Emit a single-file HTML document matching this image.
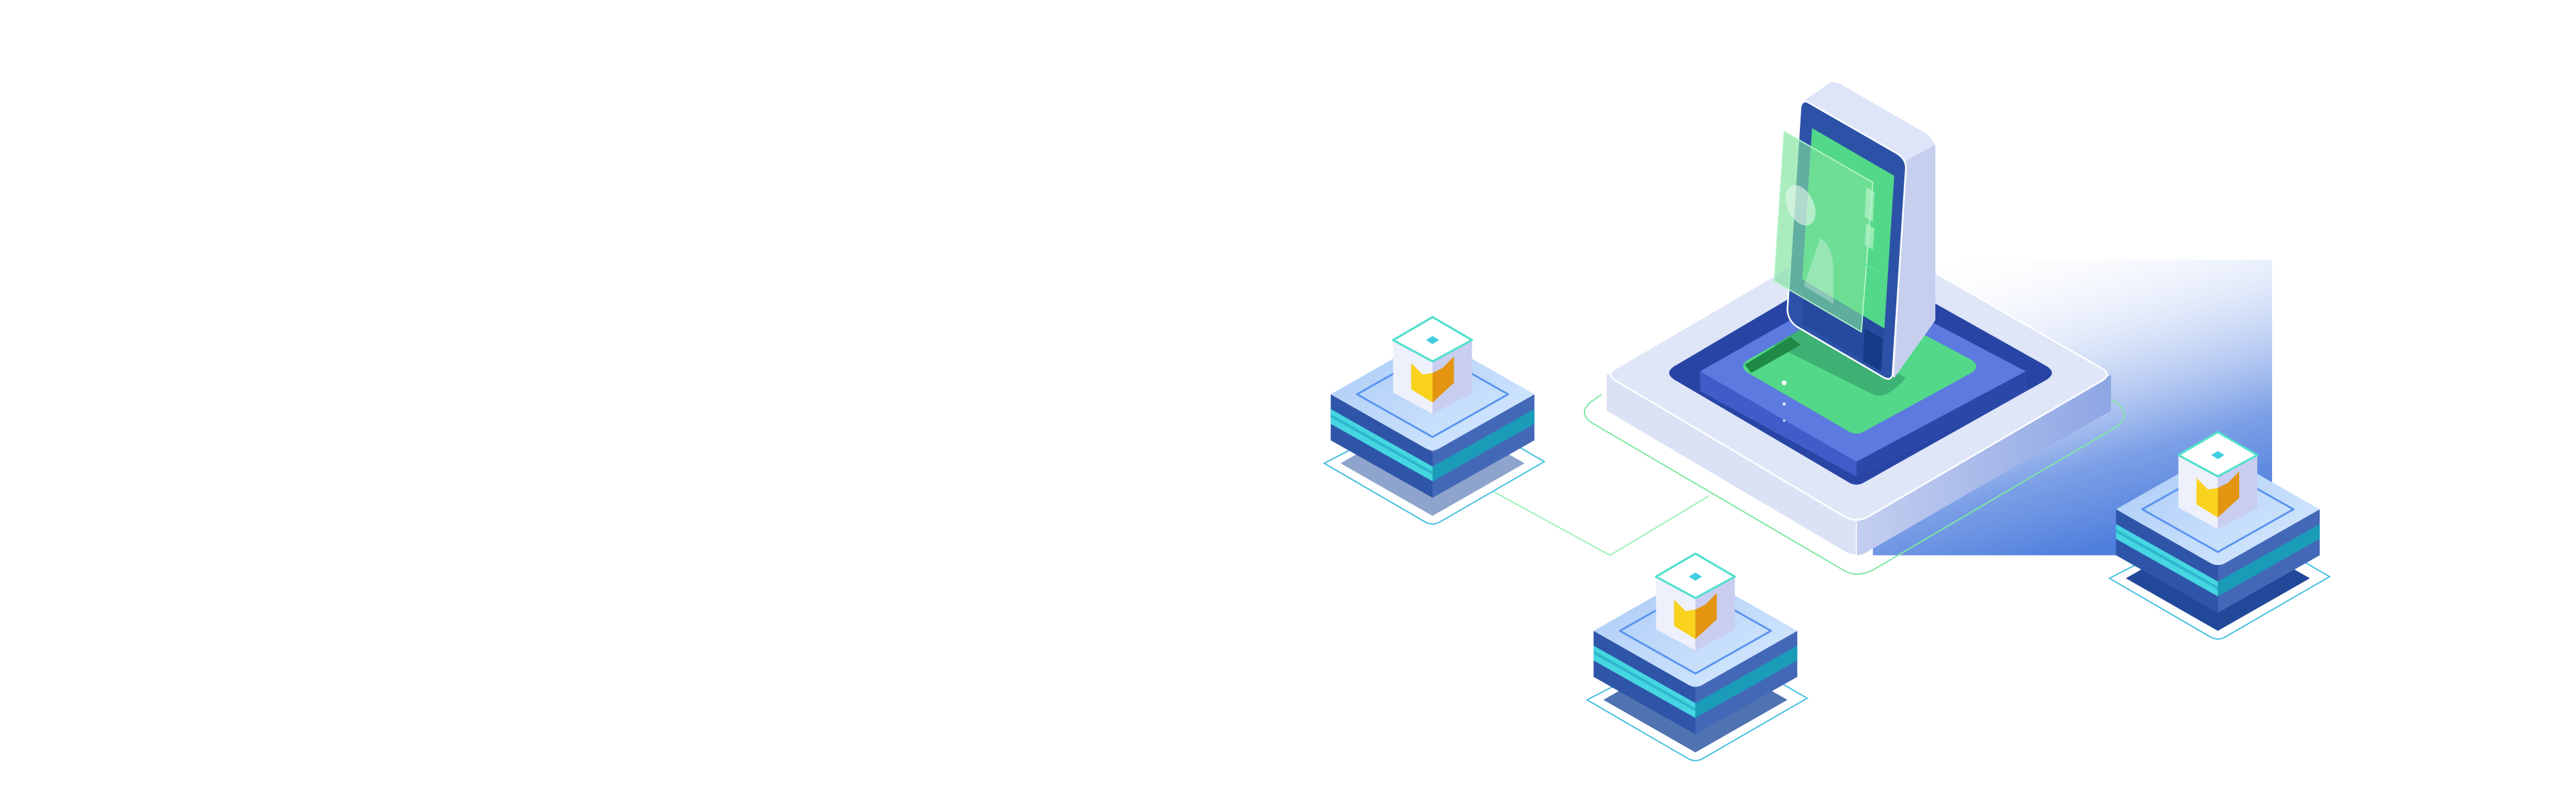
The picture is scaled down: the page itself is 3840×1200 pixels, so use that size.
<!DOCTYPE html>
<html><head><meta charset="utf-8"><style>html,body{margin:0;padding:0;background:#fff}svg{display:block}</style></head>
<body>
<svg width="3840" height="1200" viewBox="0 0 1568 490" xmlns="http://www.w3.org/2000/svg">
<defs>
<linearGradient id="bg" x1="0.1" y1="0" x2="0.5" y2="1">
<stop offset="0" stop-color="#ffffff" stop-opacity="0"/>
<stop offset="0.4" stop-color="#b4c8f2" stop-opacity="0.45"/>
<stop offset="0.75" stop-color="#6f96e4" stop-opacity="0.9"/>
<stop offset="1" stop-color="#4f7fdc"/>
</linearGradient>
<linearGradient id="pr" x1="0" y1="0" x2="1" y2="0">
<stop offset="0" stop-color="#c4cff0"/><stop offset="1" stop-color="#8ea6e4"/>
</linearGradient>
<linearGradient id="top" x1="0" y1="0" x2="1" y2="1">
<stop offset="0" stop-color="#a9c9f6"/><stop offset="1" stop-color="#d8ebff"/>
</linearGradient>
<g id="node">
<path d="M-66 42 L-4 78 Q0 80 4 78 L68 41 L6 5 Z" fill="#fff" stroke="#45bfe0" stroke-width="0.8"/>
<path d="M-56 42 L0 74 L56 42 L0 10 Z" fill="var(--sh)"/>
<polygon points="-62,0 0,35 0,63 -62,28" fill="#2f55a8"/>
<polygon points="0,35 62,0 62,28 0,63" fill="#4468b8"/>
<polygon points="-62,9 0,44 0,53 -62,18" fill="#45d6e2"/>
<polygon points="0,44 62,9 62,18 0,53" fill="#1a9cb8"/>
<polygon points="-62,12 0,47 0,49 -62,14" fill="#2fb8cc"/>
<path d="M-62 0 L-4 -33 Q0 -35 4 -33 L62 0 L4 33 Q0 35 -4 33 Z" fill="url(#top)"/>
<path d="M-46 0 L0 -26 L46 0 L0 26 Z" fill="none" stroke="#5b95f0" stroke-width="1.2" stroke-linejoin="round"/>
<polygon points="-24,-33 0,-20 0,12 -24,-1" fill="#eef0fb"/>
<polygon points="0,-20 24,-33 24,-1 0,12" fill="#c9cdf0"/>
<polygon points="-13,-19 -6,-12 0,-13 0,5 -13,-3" fill="#f8d21c"/>
<polygon points="0,-13 6,-16 13,-23 13,-7 0,5" fill="#e39410"/>
<path d="M-24 -33 L0 -47 L24 -33 L0 -20 Z" fill="#fff" stroke="#52e0cc" stroke-width="1.3" stroke-linejoin="round"/>
<polygon points="-4,-33 0,-35.5 4,-33 0,-30.5" fill="#3fcfe0"/>
</g>
</defs>

<rect x="1140" y="158" width="243" height="180" fill="url(#bg)"/>

<path d="M905 297 L980 338 L1040 302" fill="none" stroke="#8ef0b0" stroke-width="0.7"/>
<path d="M975 240 L968 245 Q960 252 970 258 L1122 347 Q1130 352 1140 347 L1288 260 Q1298 252 1288 245 L1280 240" fill="none" stroke="#7ee8a0" stroke-width="0.8"/>

<path d="M978 228 L978 250 L1122 335 Q1130 340 1138 335 L1285 250 L1285 228 Z" fill="#dbe2f6"/>
<path d="M1130 318 L1285 228 L1285 250 L1138 335 Q1134 338 1130 338 Z" fill="url(#pr)"/>
<path d="M984 224 L1124 142 Q1130 139 1136 142 L1279 224 Q1286 228 1279 232 L1138 314 Q1130 319 1122 314 L984 232 Q977 228 984 224 Z" fill="#dfe6f8" stroke="#fff" stroke-width="1"/>
<path d="M1130 318 L1130 338" stroke="#fff" stroke-width="0.6"/>
<path d="M1019 223 L1126 160 Q1130 158 1134 160 L1246 223 Q1252 227 1246 231 L1134 294 Q1130 296 1126 294 L1019 231 Q1013 227 1019 223 Z" fill="#2845a6"/>
<path d="M1035 226 L1130 172 L1233 226 L1233 238 L1130 290 L1035 238 Z" fill="#7a90ea"/>
<path d="M1035 226 L1130 281 L1130 290 L1035 238 Z" fill="#3f5cc8"/>
<path d="M1130 281 L1233 226 L1233 238 L1130 290 Z" fill="#2a48a8"/>
<path d="M1035 226 L1130 172 L1233 226 L1130 281 Z" fill="#5d7ae0"/>
<path d="M1064 219 L1126 184 Q1130 182 1134 184 L1200 219 Q1206 223 1200 227 L1134 263 Q1130 265 1126 263 L1064 227 Q1058 223 1064 219 Z" fill="#52d888"/>
<path d="M1064 219 L1100 198 L1160 230 Q1148 244 1140 240 L1080 210 Z" fill="#3aa870" opacity="0.8"/>
<path d="M1062 222 L1090 205 L1096 210 L1066 227 Z" fill="#1e8a45"/>
<circle cx="1086" cy="233" r="1.5" fill="#fff"/>
<circle cx="1086" cy="246" r="1" fill="#fff" opacity="0.8"/>
<circle cx="1086" cy="256" r="0.8" fill="#fff" opacity="0.7"/>

<path d="M1097 62 L1113 51 Q1116 49 1120 51 L1172 81 Q1178 85 1178 92 L1178 195 L1153 230 L1145 220 Z" fill="#dfe5f8"/>
<path d="M1160 98 L1178 88 L1178 195 L1153 230 Z" fill="#c6cfee"/>
<path d="M1100 62 L1154 93 Q1161 97 1160 104 L1152 228 Q1151 232 1147 230 L1094 199 Q1088 195 1088 188 L1096 65 Q1097 61 1100 62 Z" fill="#2c52a8" stroke="#fff" stroke-width="1"/>
<path d="M1103 78 L1153 107 L1147 200 L1097 170 Z" fill="#52d888"/>
<path d="M1097 170 L1147 200 L1145 226 L1097 197 Z" fill="#264a9e"/>
<path d="M1135 200 L1146 206 L1145 226 L1134 220 Z" fill="#173a86"/>
<path d="M1086 80 L1140 111 L1133 202 L1080 171 Z" fill="#7ee29c" fill-opacity="0.65" stroke="#b8f5cc" stroke-width="0.7"/>
<ellipse cx="1096" cy="125" rx="8" ry="13" transform="rotate(-25 1096 125)" fill="#e6f7ee" fill-opacity="0.6"/>
<path d="M1108 145 Q1116 150 1116 165 L1116 185 L1098 174 Z" fill="#e6f7ee" fill-opacity="0.35"/>
<path d="M1136 114 L1141 117 L1140 135 L1135 132 Z" fill="#b6f2c8" fill-opacity="0.7"/>
<path d="M1136 136 L1141 139 L1140 152 L1135 149 Z" fill="#b6f2c8" fill-opacity="0.7"/>
<path d="M1134 160 L1144 166" stroke="#5be09a" stroke-width="1"/>

<use href="#node" transform="translate(872 240)" style="--sh:#8ea4cc"/>
<use href="#node" transform="translate(1032 384)" style="--sh:#4f72b0"/>
<use href="#node" transform="translate(1350 310)" style="--sh:#22489a"/>
</svg>
</body></html>
